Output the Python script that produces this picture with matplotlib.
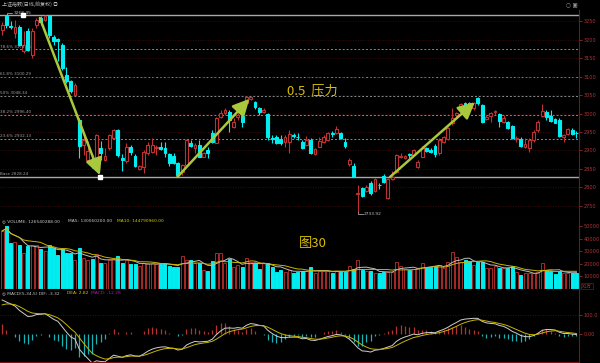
import numpy as np
import pandas as pd
import matplotlib
matplotlib.use('Agg')
import matplotlib.pyplot as plt

# 上证指数 日线 (OHLC)
opens = [3226, 3264, 3238, 3218, 3234, 3169, 3225, 3160, 3241, 3259,
         3255, 3266, 3207, 3202, 3187, 3105, 3088, 3051, 2983, 2916,
         2875, 2875, 2875, 2907, 2873, 2907, 2934, 2956, 2880, 2871,
         2909, 2884, 2850, 2854, 2893, 2897, 2906, 2909, 2906, 2890,
         2886, 2867, 2842, 2861, 2921, 2906, 2915, 2883, 2901, 2947,
         2921, 2990, 3001, 3005, 2964, 2990, 2993, 3028, 3040, 3031,
         3014, 3005, 2999, 2933, 2937, 2930, 2924, 2924, 2942, 2937,
         2924, 2915, 2928, 2890, 2910, 2924, 2928, 2948, 2948, 2948,
         2924, 2863, 2858, 2782, 2797, 2791, 2813, 2790, 2807, 2831,
         2770, 2822, 2842, 2881, 2880, 2890, 2888, 2854, 2883, 2906,
         2901, 2912, 2892, 2924, 2930, 2974, 2996, 3019, 3028, 3029,
         3014, 3041, 3023, 2985, 2993, 3004, 2999, 2978, 2978, 2966,
         2932, 2930, 2909, 2906, 2928, 2955, 2993, 3005, 2993, 2984,
         2983, 2936, 2945, 2955, 2948]
highs = [3248, 3268, 3251, 3255, 3241, 3224, 3232, 3232, 3259, 3264,
         3268, 3268, 3214, 3205, 3191, 3126, 3092, 3083, 2988, 2939,
         2926, 2885, 2945, 2926, 2907, 2945, 2959, 2959, 2889, 2920,
         2916, 2889, 2861, 2902, 2924, 2933, 2915, 2924, 2924, 2892,
         2892, 2869, 2863, 2930, 2928, 2919, 2928, 2897, 2909, 2955,
         2990, 3010, 3014, 3010, 2987, 3002, 3001, 3048, 3048, 3035,
         3019, 3014, 3001, 2942, 2942, 2942, 2942, 2955, 2948, 2946,
         2928, 2939, 2933, 2906, 2937, 2942, 2951, 2953, 2966, 2951,
         2933, 2879, 2867, 2806, 2802, 2806, 2818, 2824, 2812, 2836,
         2824, 2845, 2890, 2894, 2888, 2894, 2905, 2874, 2912, 2909,
         2906, 2917, 2933, 2939, 2964, 3014, 3005, 3029, 3032, 3032,
         3032, 3044, 3026, 2996, 3005, 3010, 3001, 2996, 2981, 2969,
         2939, 2936, 2933, 2933, 2955, 2983, 3026, 3010, 3010, 2987,
         2987, 2945, 2960, 2960, 2954]
lows = [3212, 3232, 3229, 3205, 3182, 3164, 3170, 3151, 3232, 3241,
        3251, 3205, 3187, 3142, 3119, 3083, 3056, 3050, 2880, 2888,
        2866, 2852, 2871, 2874, 2871, 2902, 2932, 2881, 2843, 2866,
        2888, 2854, 2848, 2839, 2888, 2894, 2888, 2901, 2883, 2858,
        2863, 2828, 2833, 2858, 2909, 2892, 2881, 2881, 2879, 2921,
        2919, 2987, 2996, 2951, 2960, 2983, 2964, 3026, 3037, 3012,
        2996, 3001, 2928, 2919, 2917, 2915, 2910, 2892, 2933, 2928,
        2903, 2912, 2890, 2888, 2908, 2921, 2926, 2936, 2945, 2930,
        2906, 2858, 2827, 2734, 2775, 2788, 2779, 2787, 2796, 2812,
        2768, 2820, 2840, 2879, 2876, 2879, 2885, 2852, 2881, 2897,
        2892, 2881, 2888, 2919, 2928, 2969, 2992, 3014, 3014, 3019,
        3010, 3023, 2974, 2983, 2978, 2996, 2964, 2974, 2957, 2930,
        2924, 2909, 2906, 2897, 2924, 2951, 2991, 2983, 2978, 2974,
        2936, 2924, 2942, 2942, 2933]
closes = [3241, 3239, 3236, 3234, 3187, 3187, 3173, 3223, 3255, 3248,
          3264, 3214, 3196, 3197, 3124, 3088, 3062, 3077, 2911, 2929,
          2898, 2857, 2941, 2893, 2886, 2941, 2956, 2888, 2873, 2909,
          2896, 2857, 2857, 2896, 2915, 2915, 2909, 2903, 2894, 2867,
          2865, 2833, 2861, 2928, 2912, 2915, 2883, 2894, 2892, 2924,
          2987, 3002, 3010, 2983, 2978, 2996, 2978, 3044, 3044, 3017,
          3005, 3010, 2937, 2930, 2921, 2921, 2936, 2945, 2939, 2936,
          2906, 2928, 2892, 2903, 2926, 2937, 2946, 2945, 2957, 2933,
          2912, 2874, 2829, 2785, 2777, 2802, 2784, 2822, 2805, 2815,
          2822, 2829, 2888, 2885, 2885, 2888, 2901, 2869, 2906, 2899,
          2897, 2890, 2928, 2936, 2960, 2987, 3001, 3026, 3019, 3021,
          3029, 3029, 2978, 2990, 3001, 3006, 2981, 2987, 2960, 2933,
          2934, 2912, 2917, 2928, 2951, 2978, 3008, 2991, 2981, 2975,
          2939, 2942, 2958, 2945, 2946]
# 成交量 (x1万)
volumes = [46000, 50000, 36300, 37600, 34900, 28800, 34400, 34900, 34900, 31800,
           30200, 34900, 32300, 27000, 31800, 28300, 28800, 23000, 32300, 24400,
           23000, 23600, 27500, 20900, 20900, 23000, 23600, 26200, 20900, 23000,
           19800, 19800, 18300, 20400, 20400, 20400, 19800, 19800, 20400, 18300,
           17700, 17200, 26200, 23000, 23000, 20400, 20900, 15100, 14500, 22500,
           28300, 28300, 20400, 23600, 17200, 19100, 17700, 24400, 21700, 20900,
           15600, 20400, 20900, 17700, 13700, 15100, 13700, 15100, 12900, 13700,
           14500, 14000, 17200, 12900, 14500, 14500, 14000, 12900, 14000, 13700,
           13700, 18300, 15900, 23000, 15100, 14500, 14500, 12900, 12900, 13700,
           13700, 13700, 21700, 18300, 15900, 15100, 15600, 16400, 20400, 17700,
           17700, 18500, 19100, 16400, 21700, 29600, 25600, 21700, 23000, 22500,
           19100, 21700, 21700, 16400, 16400, 18300, 16400, 16400, 16400, 18300,
           13700, 11100, 12400, 12900, 12400, 13700, 20400, 15100, 14500, 11900,
           14500, 12900, 12400, 12400, 12654]

fib_base, fib_top = 2828.24, 3268.45
fib_ratios = [0.236, 0.382, 0.5, 0.618, 0.786]
low_mark = 2733.92
# MACD(5,34,5) state at the first bar
dif_start, dea_start = 179.0, 153.0

RED = '#c03232'
CYAN = '#00eef2'
AXRED = '#7a1414'
LBL = '#b03434'
ARROW = '#a9c83c'
GOLD = '#d9bd00'
CJK = ['Noto Sans CJK SC', 'DejaVu Sans']

W, H = 600, 363
fig = plt.figure(figsize=(6, 3.63), dpi=100, facecolor='black')


def box(top, bottom):
    return [0, 1 - bottom / H, 579 / W, (bottom - top) / H]


ax = fig.add_axes(box(10, 218))
axv = fig.add_axes(box(218, 289), sharex=ax)
axm = fig.add_axes(box(289, 362), sharex=ax)

O, Hh, L, C = map(np.array, (opens, highs, lows, closes))
x = np.arange(len(C))
up = C >= O
col = np.where(up, RED, CYAN)
face = np.where(up, 'black', CYAN)

for a in (ax, axv, axm):
    a.set_facecolor('black')
    for s in ('top', 'left'):
        a.spines[s].set_visible(False)
    a.spines['right'].set_color(AXRED)
    a.spines['bottom'].set_color(AXRED)
    a.spines['right'].set_linewidth(0.8)
    a.spines['bottom'].set_linewidth(0.8)
    a.yaxis.tick_right()
    a.tick_params(axis='y', colors=LBL, labelsize=3.6, length=2, width=0.5, pad=1.5)
    a.tick_params(axis='x', bottom=False, labelbottom=False)
ax.set_xlim(-0.5, len(x) - 0.4)

# ---- K线
ax.set_ylim(3308 - 2.712 * 218, 3308 - 2.712 * 10)
ax.set_yticks(np.arange(2750, 3251, 50))
ax.grid(axis='y', color='#4e0a0a', ls=(0, (1, 2)), lw=0.6, zorder=0)
ax.vlines(x, L, Hh, colors=col, lw=0.8, zorder=2)
ax.bar(x, np.maximum(np.abs(C - O), 1.2), bottom=np.minimum(O, C), width=0.64,
       color=face, edgecolor=col, linewidth=0.8, zorder=3)

# 黄金分割
ax.axhline(fib_top, color='#a8a8a8', lw=1.0, zorder=1)
ax.axhline(fib_base, color='#a8a8a8', lw=1.0, zorder=1)
for r in fib_ratios:
    lv = fib_base + r * (fib_top - fib_base)
    ax.axhline(lv, color='#8c8c8c', lw=0.7, ls=(0, (2, 2)), zorder=1)
    pct = f'{r * 100:.1f}%'.replace('.0%', '%')
    ax.text(-0.4, lv + 2, f'{pct} {lv:.2f}', color='#a0a0a0', fontsize=3.0, va='bottom')
ax.text(-0.4, fib_base + 2, f'Base {fib_base:.2f}', color='#a0a0a0', fontsize=3.0, va='bottom')
ax.plot([1.1, 1.1, 2.2], [fib_top - 3, fib_top + 4, fib_top + 4], color='#c0c0c0', lw=0.5)
ax.text(2.6, fib_top + 4, f'{fib_top:.2f}', color='#c0c0c0', fontsize=3.2, va='center')
ax.plot([4.87, 22.8], [fib_top, fib_base], ls='none', marker='s', ms=2.2, color='white', zorder=6)
ax.plot([83, 83, 84.2], [low_mark, low_mark - 5, low_mark - 5], color='#c0c0c0', lw=0.5)
ax.text(84.4, low_mark - 5, f'{low_mark:.2f}', color='#c0c0c0', fontsize=3.2, va='center')

arrows = [((8.8, 3259), (22.8, 2833)), ((40.9, 2828), (57.7, 3040)), ((90.5, 2828), (110.3, 3031))]
for start, end in arrows:
    ax.annotate('', xy=end, xytext=start, zorder=7,
                arrowprops=dict(arrowstyle='-|>,head_length=1.0,head_width=0.5',
                                mutation_scale=10, color=ARROW, lw=1.8, shrinkA=0, shrinkB=0))

ax.text(66.5, 3060, '0.5  压力', color=GOLD, fontsize=9.5, family=CJK, va='center')
fig.text(2 / W, 1 - 4.5 / H, '上证指数(日线,前复权) ◎', color='#b8b8b8', fontsize=3.6,
         family=CJK, va='center')
fig.text(566 / W, 1 - 5 / H, '○ ▣', color='#909090', fontsize=4, va='center')

# ---- 成交量
vol = np.array(volumes, dtype=float)
axv.set_ylim(0, 56350)
axv.set_yticks([10000, 20000, 30000, 40000, 50000])
axv.bar(x, vol, width=0.7, color=face, edgecolor=np.where(up, '#a82a2a', CYAN), linewidth=0.7)
ma5 = pd.Series(vol).rolling(5, min_periods=1).mean()
ma10 = pd.Series(vol).rolling(10, min_periods=1).mean()
axv.plot(x, ma5, color='#bdbdbd', lw=0.7)
axv.plot(x, ma10, color='#c8b400', lw=0.7)
hy = 1 - 221.5 / H
fig.text(2 / W, hy, '◎ VOLUME: 126540288.00', color='#c8c8c8', fontsize=3.2, va='center')
fig.text(68 / W, hy, 'MA5: 130060200.00', color='#c8c8c8', fontsize=3.2, va='center')
fig.text(117 / W, hy, 'MA10: 144790960.00', color='#d6c400', fontsize=3.2, va='center')
axv.text(69.3, 36500, '图30', color=GOLD, fontsize=9.5, family=CJK, va='center')
fig.text(582 / W, 1 - 286 / H, 'X1万', color=LBL, fontsize=3.4, va='center', family=CJK,
         bbox=dict(boxstyle='square,pad=0.15', fc='black', ec=AXRED, lw=0.5))

# ---- MACD(5,34,5)
e5 = np.empty(len(C))
e34 = np.empty(len(C))
dea = np.empty(len(C))
e5[0], e34[0], dea[0] = C[0], C[0] - dif_start, dea_start
for i in range(1, len(C)):
    e5[i] = e5[i - 1] + 2 / 6 * (C[i] - e5[i - 1])
    e34[i] = e34[i - 1] + 2 / 35 * (C[i] - e34[i - 1])
dif = e5 - e34
for i in range(1, len(C)):
    dea[i] = dea[i - 1] + 2 / 6 * (dif[i] - dea[i - 1])
macd = 2 * (dif - dea)

axm.set_ylim(-147.4, 236.8)
axm.set_yticks([0, 100])
axm.set_yticklabels(['0.00', '100.0'])
axm.axhline(100, color='#5a0c0c', ls=(0, (1, 2)), lw=0.6)
axm.vlines(x, 0, macd, colors=np.where(macd >= 0, '#b83030', '#14b4b8'), lw=0.9)
axm.plot(x, dif, color='#cfcfcf', lw=0.7)
axm.plot(x, dea, color='#c8b400', lw=0.7)
my = 1 - 293.5 / H
fig.text(2 / W, my, '◎ MACD(5,34,5) DIF: -3.32', color='#c8c8c8', fontsize=3.2, va='center')
fig.text(67 / W, my, 'DEA: 2.82', color='#d6c400', fontsize=3.2, va='center')
fig.text(91 / W, my, 'MACD: -12.28', color='#c010c0', fontsize=3.2, va='center')

fig.savefig('out.png', dpi=100, facecolor='black')
